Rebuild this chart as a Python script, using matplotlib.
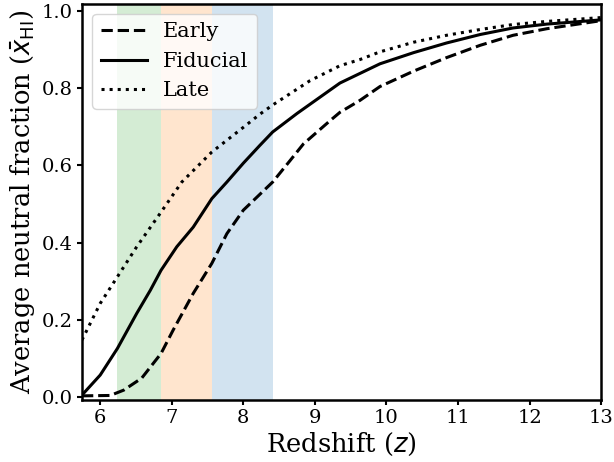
import matplotlib

matplotlib.use("Agg")
import matplotlib.pyplot as plt

plt.rcParams["font.family"] = "DejaVu Serif"
plt.rcParams["mathtext.fontset"] = "dejavusans"

# neutral fraction vs redshift for the three reionisation histories
z_fid = [5.745, 6.0, 6.24, 6.51, 6.70, 6.85, 7.07, 7.30, 7.56, 7.77, 8.00, 8.23, 8.41,
         8.75, 9.35, 9.91, 10.38, 10.84, 11.31, 11.77, 12.24, 13.0]
x_fid = [0.004, 0.056, 0.125, 0.216, 0.276, 0.328, 0.389, 0.440, 0.514, 0.557, 0.606,
         0.652, 0.687, 0.735, 0.814, 0.864, 0.893, 0.918, 0.940, 0.957, 0.967, 0.978]

z_early = [5.745, 6.14, 6.33, 6.58, 6.85, 7.02, 7.30, 7.56, 7.77, 8.00, 8.41, 8.65,
           8.84, 9.21, 9.35, 9.63, 9.91, 10.38, 10.84, 11.31, 11.77, 12.24, 13.0]
x_early = [0.002, 0.003, 0.017, 0.048, 0.112, 0.173, 0.268, 0.346, 0.423, 0.484, 0.557,
           0.612, 0.656, 0.716, 0.738, 0.769, 0.805, 0.845, 0.880, 0.912, 0.938, 0.955,
           0.976]

z_late = [5.745, 6.0, 6.24, 6.51, 6.85, 7.14, 7.56, 8.00, 8.23, 8.41, 8.93, 9.35,
          9.63, 9.91, 10.38, 10.84, 11.31, 11.77, 12.24, 13.0]
x_late = [0.147, 0.242, 0.311, 0.389, 0.479, 0.557, 0.635, 0.699, 0.733, 0.757, 0.820,
          0.859, 0.875, 0.895, 0.920, 0.938, 0.953, 0.966, 0.974, 0.984]

x_ticks = [6, 7, 8, 9, 10, 11, 12, 13]
y_ticks = [0.0, 0.2, 0.4, 0.6, 0.8, 1.0]

# redshift bins highlighted
bands = [(6.24, 6.85), (6.85, 7.56), (7.56, 8.41)]
band_colors = ["tab:green", "tab:orange", "tab:blue"]

fig, ax = plt.subplots(figsize=(6.14, 4.62), dpi=100)
fig.subplots_adjust(left=0.1335, right=0.979, top=0.992, bottom=0.134)

for (lo, hi), c in zip(bands, band_colors):
    ax.axvspan(lo, hi, color=c, alpha=0.2, lw=0)

ax.plot(z_early, x_early, "k--", lw=2.2, label="Early")
ax.plot(z_fid, x_fid, "k-", lw=2.2, label="Fiducial")
ax.plot(z_late, x_late, "k:", lw=2.2, label="Late")

ax.set_xlim(5.745, 13)
ax.set_ylim(-0.009, 1.02)
ax.set_xticks(x_ticks)
ax.set_yticks(y_ticks)
ax.set_xlabel(r"Redshift ($z$)", fontsize=18.5, labelpad=3)
ax.set_ylabel(r"Average neutral fraction ($\bar{x}_{\rm HI}$)", fontsize=18.5, labelpad=3)
ax.tick_params(labelsize=14, width=1.5, length=3.5, pad=3)
for s in ax.spines.values():
    s.set_linewidth(1.8)

ax.legend(loc="upper left", fontsize=15, handlelength=2.2)
fig.savefig("out.png", dpi=100)
